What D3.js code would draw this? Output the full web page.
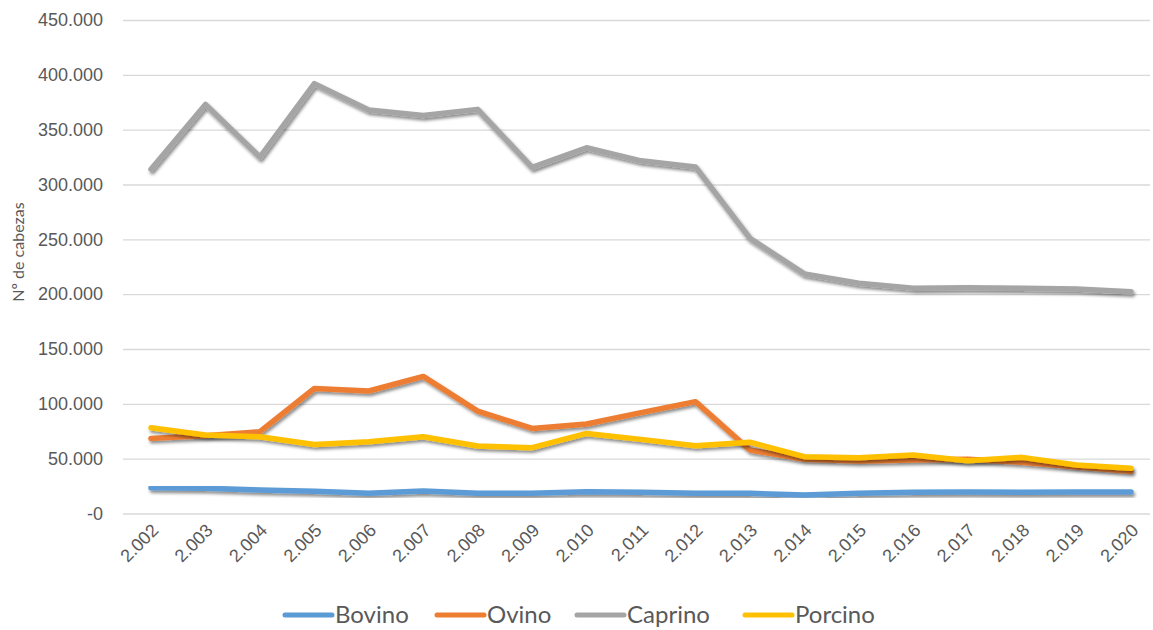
<!DOCTYPE html>
<html>
<head>
<meta charset="utf-8">
<script src="https://cdn.jsdelivr.net/npm/d3@7"></script>
<style>
  html, body { margin: 0; padding: 0; background: #fff; }
  svg { display: block; font-family: Lato, "Open Sans", sans-serif; }
</style>
</head>
<body>
<svg id="chart" width="1153" height="630"></svg>
<script>
const years = [2002,2003,2004,2005,2006,2007,2008,2009,2010,2011,2012,2013,2014,2015,2016,2017,2018,2019,2020];
const bovino  = [23500,23000,21400,20200,18400,20500,18400,18400,19900,19300,18400,18400,16900,18400,19300,19600,19300,19600,19600];
const ovino   = [68500,71000,74600,114000,111700,125000,93400,77600,81600,92000,102000,57900,49400,47900,48800,49400,46700,42500,38500];
const caprino = [314000,373000,325000,392000,368000,363000,368500,315600,333500,321600,316000,251000,218500,210000,205500,205800,205500,204800,202300];
const porcino = [78200,71600,70000,63000,65500,70000,61500,60000,73000,67600,61800,65000,51800,50900,53300,48100,51200,44200,41200];
const seriesNames = ["Bovino","Ovino","Caprino","Porcino"];
const seriesColors = ["#5B9BD5","#ED7D31","#A5A5A5","#FFC000"];
const yTicks = [0,50000,100000,150000,200000,250000,300000,350000,400000,450000];

const seriesValues = [bovino, ovino, caprino, porcino];
const svg = d3.select("#chart");
const locale = d3.formatLocale({decimal: ",", thousands: ".", grouping: [3], currency: ["", "€"]});
const fmt = locale.format(",d");

const x = d3.scalePoint().domain(years).range([151, 1131]);
const y = d3.scaleLinear().domain([0, 450000]).range([513.5, 20]);

// shadow filter
const defs = svg.append("defs");
const f = defs.append("filter").attr("id", "shadow").attr("x", "-5%").attr("y", "-20%").attr("width", "110%").attr("height", "150%");
f.append("feDropShadow").attr("dx", 1.5).attr("dy", 2.5).attr("stdDeviation", 1.8)
  .attr("flood-color", "#000").attr("flood-opacity", 0.45);

// gridlines
const yAxis = d3.axisLeft(y).tickValues(yTicks).tickSize(-(1150 - 123)).tickPadding(20)
  .tickFormat(d => d === 0 ? "-0" : fmt(d));
const gy = svg.append("g").attr("transform", "translate(123,0)").call(yAxis);
gy.select(".domain").remove();
gy.selectAll(".tick line").attr("stroke", "#d9d9d9").attr("stroke-width", 1.3);
gy.selectAll(".tick text").attr("fill", "#595959").attr("font-size", 18).attr("x", -20);

// x axis labels
const xAxis = d3.axisBottom(x).tickSize(0).tickFormat(d => fmt(d));
const gx = svg.append("g").attr("transform", "translate(0,513.5)").call(xAxis);
gx.select(".domain").remove();
gx.selectAll(".tick text")
  .attr("fill", "#595959").attr("font-size", 18)
  .attr("text-anchor", "end")
  .attr("dy", 0)
  .attr("transform", "translate(8,18) rotate(-45)")
  .attr("y", 0).attr("x", 0);

// y title
svg.append("text")
  .attr("transform", "translate(24,252) rotate(-90)")
  .attr("text-anchor", "middle")
  .attr("fill", "#595959").attr("font-size", 16)
  .text("Nº de cabezas");

// lines
const line = d3.line().x((d, i) => x(years[i])).y(d => y(d));
const gl = svg.append("g");
seriesValues.forEach((vals, k) => {
  gl.append("path").datum(vals)
    .attr("d", line)
    .attr("fill", "none")
    .attr("stroke", seriesColors[k])
    .attr("stroke-width", 5.5)
    .attr("stroke-linejoin", "round")
    .attr("stroke-linecap", "round")
    .attr("filter", "url(#shadow)");
});

// legend
const legendX = [285, 437, 577, 745];
const lg = svg.append("g");
seriesNames.forEach((n, k) => {
  lg.append("line")
    .attr("x1", legendX[k]).attr("x2", legendX[k] + 47)
    .attr("y1", 615).attr("y2", 615)
    .attr("stroke", seriesColors[k]).attr("stroke-width", 5).attr("stroke-linecap", "round");
  lg.append("text")
    .attr("x", legendX[k] + 50).attr("y", 623)
    .attr("fill", "#595959").attr("font-size", 24)
    .text(n);
});
</script>
</body>
</html>
